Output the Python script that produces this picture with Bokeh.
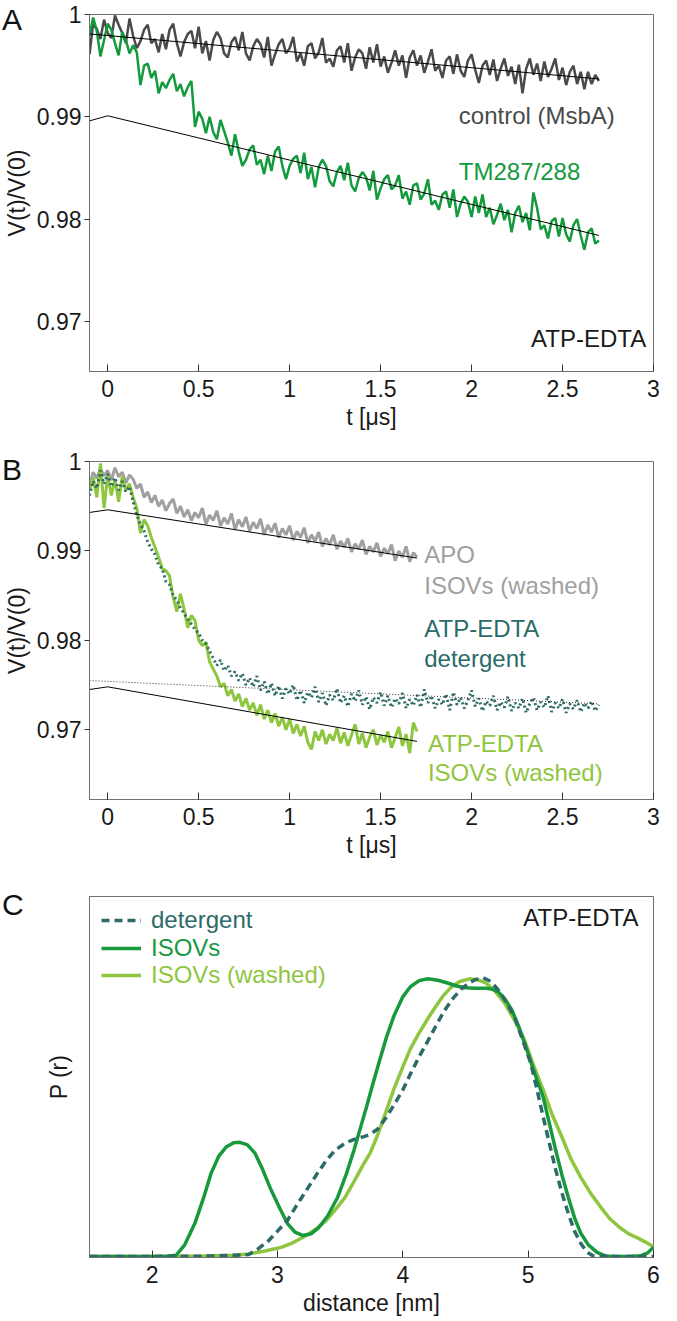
from bokeh.plotting import figure
from bokeh.layouts import column
from bokeh.models import Range1d, FixedTicker, CustomJSTickFormatter, Label, Legend, LegendItem, Div
from bokeh.embed import file_html
from bokeh.resources import INLINE

FONT = "Liberation Sans"
C_CTRL = "#4a4a4a"
C_TM = "#139a3c"
C_APO = "#a0a0a0"
C_TEAL = "#2c6b68"
C_LG = "#8fc63f"
C_ISO = "#17993c"

# ---------------- data: panel A ----------------
tA = [round(-0.1 + 0.02 * i, 2) for i in range(141)]
ctrl = [0.9961, 0.9991, 0.9986, 0.9976, 0.9995, 0.9982, 0.9977, 0.9999, 0.9990, 0.9982,
        0.9972, 0.9996, 0.9979, 0.9967, 0.9974, 0.9985, 0.9990, 0.9972, 0.9976, 0.9963,
        0.9981, 0.9966, 0.9985, 0.9991, 0.9972, 0.9959, 0.9973, 0.9981, 0.9984, 0.9967,
        0.9988, 0.9962, 0.9974, 0.9955, 0.9975, 0.9983, 0.9977, 0.9962, 0.9958, 0.9973,
        0.9978, 0.9965, 0.9983, 0.9962, 0.9955, 0.9969, 0.9976, 0.9971, 0.9958, 0.9978,
        0.9950, 0.9961, 0.9971, 0.9976, 0.9962, 0.9967, 0.9978, 0.9954, 0.9962, 0.9950,
        0.9969, 0.9972, 0.9957, 0.9963, 0.9977, 0.9953, 0.9957, 0.9949, 0.9965, 0.9969,
        0.9953, 0.9972, 0.9945, 0.9958, 0.9966, 0.9962, 0.9947, 0.9968, 0.9953, 0.9971,
        0.9949, 0.9959, 0.9943, 0.9953, 0.9965, 0.9950, 0.9960, 0.9938, 0.9958, 0.9965,
        0.9950, 0.9960, 0.9943, 0.9954, 0.9966, 0.9945, 0.9950, 0.9938, 0.9955, 0.9959,
        0.9942, 0.9961, 0.9945, 0.9939, 0.9955, 0.9961, 0.9946, 0.9933, 0.9950, 0.9955,
        0.9941, 0.9956, 0.9935, 0.9947, 0.9957, 0.9940, 0.9949, 0.9932, 0.9951, 0.9923,
        0.9947, 0.9957, 0.9941, 0.9952, 0.9935, 0.9954, 0.9939, 0.9947, 0.9957, 0.9936,
        0.9948, 0.9931, 0.9944, 0.9950, 0.9932, 0.9944, 0.9927, 0.9944, 0.9932, 0.9941,
        0.9935]
tm = [0.9979, 0.9997, 0.9984, 0.9959, 0.9975, 0.9991, 0.9985, 0.9972, 0.9960, 0.9983,
      0.9975, 0.9962, 0.9970, 0.9963, 0.9931, 0.9950, 0.9952, 0.9938, 0.9945, 0.9923,
      0.9934, 0.9928, 0.9936, 0.9942, 0.9925, 0.9932, 0.9920, 0.9929, 0.9935, 0.9890,
      0.9905, 0.9898, 0.9884, 0.9900, 0.9885, 0.9878, 0.9897, 0.9886, 0.9875, 0.9862,
      0.9883, 0.9866, 0.9852, 0.9858, 0.9868, 0.9872, 0.9853, 0.9858, 0.9844, 0.9862,
      0.9847, 0.9866, 0.9871, 0.9852, 0.9839, 0.9852, 0.9859, 0.9862, 0.9845, 0.9865,
      0.9839, 0.9851, 0.9831, 0.9851, 0.9858, 0.9852, 0.9837, 0.9832, 0.9846, 0.9852,
      0.9838, 0.9855, 0.9833, 0.9827, 0.9840, 0.9846, 0.9841, 0.9828, 0.9847, 0.9819,
      0.9830, 0.9839, 0.9843, 0.9829, 0.9833, 0.9843, 0.9820, 0.9827, 0.9814, 0.9833,
      0.9835, 0.9819, 0.9825, 0.9839, 0.9814, 0.9818, 0.9809, 0.9824, 0.9827, 0.9811,
      0.9829, 0.9802, 0.9815, 0.9822, 0.9817, 0.9802, 0.9822, 0.9806, 0.9824, 0.9802,
      0.9811, 0.9795, 0.9804, 0.9815, 0.9799, 0.9809, 0.9787, 0.9806, 0.9813, 0.9797,
      0.9806, 0.9789, 0.9826, 0.9811, 0.9790, 0.9794, 0.9781, 0.9798, 0.9801, 0.9783,
      0.9801, 0.9785, 0.9778, 0.9794, 0.9800, 0.9784, 0.9770, 0.9787, 0.9791, 0.9776,
      0.9779]
fitA_ctrl_t = [-0.1, 2.7]
fitA_ctrl_v = [0.9981, 0.9937]
fitA_tm_t = [-0.1, 0.0, 2.7]
fitA_tm_v = [0.9896, 0.9901, 0.9784]

# ---------------- data: panel B ----------------
tB_short = [round(-0.1 + 0.02 * i, 2) for i in range(91)]
tB_long = [round(-0.1 + 0.02 * i, 2) for i in range(141)]
apo = [0.9972, 0.9988, 0.9981, 0.9992, 0.9984, 0.9990, 0.9979, 0.9993, 0.9983, 0.9988,
       0.9976, 0.9985, 0.9980, 0.9970, 0.9975, 0.9960, 0.9966, 0.9954, 0.9962, 0.9950,
       0.9957, 0.9945, 0.9953, 0.9958, 0.9942, 0.9950, 0.9938, 0.9946, 0.9934, 0.9943,
       0.9937, 0.9948, 0.9930, 0.9940, 0.9934, 0.9945, 0.9928, 0.9937, 0.9930, 0.9942,
       0.9924, 0.9935, 0.9927, 0.9938, 0.9922, 0.9932, 0.9925, 0.9936, 0.9918, 0.9929,
       0.9921, 0.9931, 0.9915, 0.9925, 0.9918, 0.9928, 0.9912, 0.9922, 0.9915, 0.9926,
       0.9909, 0.9918, 0.9911, 0.9921, 0.9905, 0.9914, 0.9907, 0.9918, 0.9902, 0.9911,
       0.9904, 0.9914, 0.9899, 0.9908, 0.9902, 0.9912, 0.9896, 0.9905, 0.9899, 0.9909,
       0.9894, 0.9903, 0.9897, 0.9907, 0.9889, 0.9900, 0.9893, 0.9905, 0.9888, 0.9898,
       0.9893]
det = [0.9962, 0.9978, 0.9970, 0.9990, 0.9975, 0.9986, 0.9972, 0.9982, 0.9968, 0.9978,
       0.9966, 0.9972, 0.9955, 0.9940, 0.9930, 0.9922, 0.9910, 0.9902, 0.9896, 0.9884,
       0.9880, 0.9866, 0.9862, 0.9850, 0.9845, 0.9836, 0.9830, 0.9824, 0.9818, 0.9812,
       0.9808, 0.9800, 0.9796, 0.9788, 0.9780, 0.9772, 0.9778, 0.9766, 0.9772, 0.9760,
       0.9765, 0.9755, 0.9763, 0.9750, 0.9758, 0.9748, 0.9760, 0.9744, 0.9754, 0.9740,
       0.9752, 0.9738, 0.9749, 0.9735, 0.9746, 0.9740, 0.9750, 0.9733, 0.9744, 0.9730,
       0.9742, 0.9736, 0.9748, 0.9731, 0.9741, 0.9727, 0.9739, 0.9733, 0.9746, 0.9730,
       0.9738, 0.9726, 0.9740, 0.9732, 0.9744, 0.9728, 0.9737, 0.9723, 0.9736, 0.9730,
       0.9742, 0.9727, 0.9738, 0.9725, 0.9735, 0.9729, 0.9741, 0.9724, 0.9734, 0.9727,
       0.9739, 0.9725, 0.9745, 0.9730, 0.9738, 0.9724, 0.9734, 0.9728, 0.9740, 0.9722,
       0.9742, 0.9728, 0.9736, 0.9724, 0.9733, 0.9744, 0.9726, 0.9735, 0.9721, 0.9732,
       0.9727, 0.9738, 0.9722, 0.9731, 0.9725, 0.9737, 0.9721, 0.9730, 0.9724, 0.9735,
       0.9719, 0.9729, 0.9736, 0.9722, 0.9731, 0.9725, 0.9738, 0.9720, 0.9730, 0.9724,
       0.9734, 0.9719, 0.9729, 0.9723, 0.9733, 0.9720, 0.9730, 0.9724, 0.9732, 0.9721,
       0.9728]
wash = [0.9968, 0.9982, 0.9960, 0.9998, 0.9948, 0.9985, 0.9962, 0.9980, 0.9955, 0.9983,
        0.9968, 0.9975, 0.9960, 0.9948, 0.9920, 0.9935, 0.9928, 0.9915, 0.9904, 0.9893,
        0.9880, 0.9878, 0.9872, 0.9848, 0.9832, 0.9852, 0.9835, 0.9814, 0.9828, 0.9822,
        0.9800, 0.9794, 0.9798, 0.9776, 0.9768, 0.9760, 0.9748, 0.9752, 0.9738, 0.9745,
        0.9732, 0.9740, 0.9726, 0.9735, 0.9722, 0.9730, 0.9716, 0.9728, 0.9712, 0.9722,
        0.9708, 0.9718, 0.9704, 0.9714, 0.9700, 0.9712, 0.9696, 0.9706, 0.9693, 0.9704,
        0.9686, 0.9678, 0.9698, 0.9688, 0.9700, 0.9684, 0.9695, 0.9688, 0.9702, 0.9685,
        0.9697, 0.9682, 0.9694, 0.9706, 0.9684, 0.9696, 0.9680, 0.9692, 0.9700, 0.9683,
        0.9694, 0.9686, 0.9698, 0.9680, 0.9691, 0.9703, 0.9682, 0.9695, 0.9674, 0.9708,
        0.9698]
fitB_apo_t = [-0.1, 0.0, 1.7]
fitB_apo_v = [0.9943, 0.9946, 0.9892]
fitB_wash_t = [-0.1, 0.0, 1.7]
fitB_wash_v = [0.9745, 0.9748, 0.9687]
fitB_det_t = [-0.1, 2.7]
fitB_det_v = [0.9755, 0.9729]

# ---------------- data: panel C ----------------
r_iso = [1.5, 1.8, 2.1, 2.19, 2.26, 2.34, 2.41, 2.47, 2.53, 2.59, 2.65, 2.70, 2.76, 2.82,
         2.88, 2.95, 3.02, 3.08, 3.14, 3.20, 3.27, 3.33, 3.40, 3.48, 3.55, 3.61, 3.66, 3.71,
         3.76, 3.81, 3.87, 3.93, 4.00, 4.06, 4.13, 4.20, 4.28, 4.35, 4.43, 4.50, 4.58, 4.66,
         4.71, 4.76, 4.81, 4.87, 4.93, 4.99, 5.05, 5.12, 5.17, 5.22, 5.27, 5.32, 5.37, 5.42,
         5.48, 5.55, 5.62, 5.70, 5.80, 5.90, 5.95, 6.0]
p_iso = [0.003, 0.003, 0.003, 0.006, 0.035, 0.094, 0.165, 0.233, 0.280, 0.306, 0.318, 0.319,
         0.312, 0.289, 0.245, 0.186, 0.135, 0.094, 0.070, 0.061, 0.066, 0.083, 0.115, 0.167,
         0.232, 0.297, 0.357, 0.417, 0.480, 0.540, 0.611, 0.670, 0.722, 0.750, 0.767, 0.772,
         0.768, 0.761, 0.752, 0.747, 0.746, 0.746, 0.744, 0.736, 0.718, 0.686, 0.635, 0.575,
         0.512, 0.444, 0.370, 0.297, 0.228, 0.167, 0.110, 0.067, 0.035, 0.014, 0.004, 0.003,
         0.003, 0.005, 0.012, 0.028]
r_det = [1.5, 2.0, 2.5, 2.77, 2.85, 2.93, 3.00, 3.08, 3.15, 3.23, 3.31, 3.39, 3.46, 3.54,
         3.61, 3.69, 3.74, 3.80, 3.87, 3.93, 4.00, 4.06, 4.13, 4.20, 4.26, 4.33, 4.41, 4.47,
         4.53, 4.58, 4.64, 4.70, 4.76, 4.82, 4.89, 4.95, 5.02, 5.07, 5.12, 5.17, 5.22, 5.27,
         5.32, 5.37, 5.42, 5.47, 5.52, 5.7, 6.0]
p_det = [0.003, 0.003, 0.004, 0.008, 0.025, 0.047, 0.073, 0.103, 0.143, 0.186, 0.229, 0.269,
         0.297, 0.317, 0.327, 0.335, 0.341, 0.356, 0.389, 0.423, 0.464, 0.508, 0.556, 0.600,
         0.639, 0.683, 0.722, 0.745, 0.761, 0.770, 0.775, 0.765, 0.742, 0.710, 0.667, 0.608,
         0.539, 0.466, 0.389, 0.315, 0.242, 0.178, 0.122, 0.073, 0.039, 0.015, 0.004, 0.003,
         0.003]
r_wash = [1.5, 2.0, 2.4, 2.65, 2.77, 2.9, 3.03, 3.13, 3.23, 3.31, 3.39, 3.46, 3.54, 3.61,
          3.69, 3.74, 3.80, 3.87, 3.93, 4.00, 4.06, 4.13, 4.20, 4.26, 4.32, 4.38, 4.45, 4.53,
          4.60, 4.66, 4.73, 4.81, 4.89, 4.97, 5.04, 5.12, 5.19, 5.27, 5.34, 5.42, 5.50, 5.58,
          5.65, 5.73, 5.80, 5.88, 5.94, 6.0]
p_wash = [0.003, 0.003, 0.004, 0.006, 0.010, 0.018, 0.028, 0.042, 0.061, 0.080, 0.103, 0.132,
          0.167, 0.210, 0.261, 0.290, 0.340, 0.408, 0.468, 0.528, 0.578, 0.622, 0.662, 0.694,
          0.724, 0.747, 0.764, 0.772, 0.769, 0.761, 0.740, 0.706, 0.658, 0.603, 0.535, 0.464,
          0.397, 0.333, 0.274, 0.222, 0.177, 0.139, 0.108, 0.083, 0.066, 0.053, 0.042, 0.030]

t_ticks = [0, 0.5, 1, 1.5, 2, 2.5, 3]
v_ticks = [0.97, 0.98, 0.99, 1.0]
r_ticks = [2, 3, 4, 5, 6]
panel_letters = ["A", "B", "C"]

W = 661
fmt_code = "return String(Number(tick.toFixed(3)));"


def make_fig(h, top, bottom, xr, yr):
    p = figure(width=W, height=h, x_range=Range1d(*xr), y_range=Range1d(*yr),
               output_backend="svg", toolbar_location=None,
               min_border_left=80, min_border_right=8,
               min_border_top=top, min_border_bottom=bottom)
    p.grid.visible = False
    p.outline_line_color = "#707070"
    p.outline_line_width = 1
    for ax in (p.xaxis[0], p.yaxis[0]):
        ax.axis_line_color = "#707070"
        ax.major_tick_line_color = "#333333"
        ax.minor_tick_line_color = None
        ax.major_label_text_font = FONT
        ax.major_label_text_font_size = "23px"
        ax.major_label_text_color = "#1a1a1a"
        ax.axis_label_text_font = FONT
        ax.axis_label_text_font_size = "23px"
        ax.axis_label_text_font_style = "normal"
        ax.axis_label_text_color = "#1a1a1a"
        ax.formatter = CustomJSTickFormatter(code=fmt_code)
    xa = p.xaxis[0]
    xa.major_tick_in = 7
    xa.major_tick_out = 0
    xa.major_label_standoff = 8
    xa.axis_label_standoff = 4
    ya = p.yaxis[0]
    ya.major_tick_in = 0
    ya.major_tick_out = 5
    ya.major_label_standoff = 3
    ya.axis_label_standoff = 4
    return p


def txt(p, x, y, s, color, align="left", size="24px"):
    p.add_layout(Label(x=x, y=y, text=s, text_color=color, text_align=align,
                       text_baseline="middle", text_font=FONT, text_font_size=size))


# ---------------- panel A ----------------
pA = make_fig(435, 14, 64, (-0.1, 3.0), (0.9651, 1.0))
pA.xaxis[0].ticker = FixedTicker(ticks=t_ticks)
pA.yaxis[0].ticker = FixedTicker(ticks=v_ticks)
pA.xaxis[0].axis_label = "t [μs]"
pA.yaxis[0].axis_label = "V(t)/V(0)"
pA.line(tA, ctrl, line_color=C_CTRL, line_width=2.5)
pA.line(tA, tm, line_color=C_TM, line_width=2.5)
pA.line(fitA_ctrl_t, fitA_ctrl_v, line_color="black", line_width=1)
pA.line(fitA_tm_t, fitA_tm_v, line_color="black", line_width=1)
txt(pA, 1.93, 0.9901, "control (MsbA)", C_CTRL)
txt(pA, 1.93, 0.9847, "TM287/288", C_TM)
txt(pA, 2.96, 0.9683, "ATP-EDTA", "#1a1a1a", align="right")

# ---------------- panel B ----------------
pB = make_fig(428, 26, 64, (-0.1, 3.0), (0.9622, 1.0))
pB.xaxis[0].ticker = FixedTicker(ticks=t_ticks)
pB.yaxis[0].ticker = FixedTicker(ticks=v_ticks)
pB.xaxis[0].axis_label = "t [μs]"
pB.yaxis[0].axis_label = "V(t)/V(0)"
pB.line(tB_short, apo, line_color=C_APO, line_width=3)
pB.line(tB_short, wash, line_color=C_LG, line_width=3)
pB.line(tB_long, det, line_color=C_TEAL, line_width=3, line_dash="2 3")
pB.line(fitB_apo_t, fitB_apo_v, line_color="black", line_width=1)
pB.line(fitB_wash_t, fitB_wash_v, line_color="black", line_width=1)
pB.line(fitB_det_t, fitB_det_v, line_color="#333333", line_width=1, line_dash="1 2")
txt(pB, 1.74, 0.98955, "APO", C_APO)
txt(pB, 1.74, 0.98618, "ISOVs (washed)", C_APO)
txt(pB, 1.74, 0.98135, "ATP-EDTA", C_TEAL)
txt(pB, 1.74, 0.97798, "detergent", C_TEAL)
txt(pB, 1.76, 0.96843, "ATP-EDTA", C_LG)
txt(pB, 1.76, 0.96517, "ISOVs (washed)", C_LG)

# ---------------- panel C ----------------
pC = make_fig(456, 33, 62, (1.5, 6.0), (0.0, 1.0))
pC.xaxis[0].ticker = FixedTicker(ticks=r_ticks)
pC.yaxis[0].ticker = FixedTicker(ticks=[])
pC.yaxis[0].major_tick_out = 0
pC.yaxis[0].axis_label_standoff = 18
pC.xaxis[0].axis_label = "distance [nm]"
pC.yaxis[0].axis_label = "P (r)"
rw = pC.line(r_wash, p_wash, line_color=C_LG, line_width=3.5)
ri = pC.line(r_iso, p_iso, line_color=C_ISO, line_width=3.5)
rd = pC.line(r_det, p_det, line_color=C_TEAL, line_width=3.5, line_dash="8 5")
txt(pC, 5.88, 0.942, "ATP-EDTA", "#1a1a1a", align="right")

for (rend, lab, col, vy) in [(rd, "detergent", C_TEAL, 323),
                             (ri, "ISOVs", C_ISO, 295),
                             (rw, "ISOVs (washed)", C_LG, 268)]:
    leg = Legend(items=[LegendItem(label=lab, renderers=[rend])], location=(12, vy),
                 label_text_color=col, label_text_font=FONT, label_text_font_size="24px",
                 glyph_width=40, glyph_height=22, label_height=22, label_standoff=10,
                 padding=0, spacing=0, margin=0, border_line_color=None,
                 background_fill_alpha=0)
    pC.add_layout(leg)

# panel letters: one absolutely positioned overlay (takes no layout space)
letter_tops = [0, 450, 885]
letters_html = "".join(
    f'<div style="position:absolute;left:-3px;top:{t}px;">{s}</div>'
    for s, t in zip(panel_letters, letter_tops))
letters = Div(text=letters_html, width=0, height=0,
              styles={"position": "absolute", "top": "0px", "left": "0px",
                      "z-index": "10", "overflow": "visible", "font-family": FONT,
                      "font-size": "30px", "color": "#111111", "white-space": "nowrap",
                      "line-height": "1"})

layout = column(pA, pB, pC, letters, spacing=0)
open("out.html", "w").write(file_html(layout, INLINE))
